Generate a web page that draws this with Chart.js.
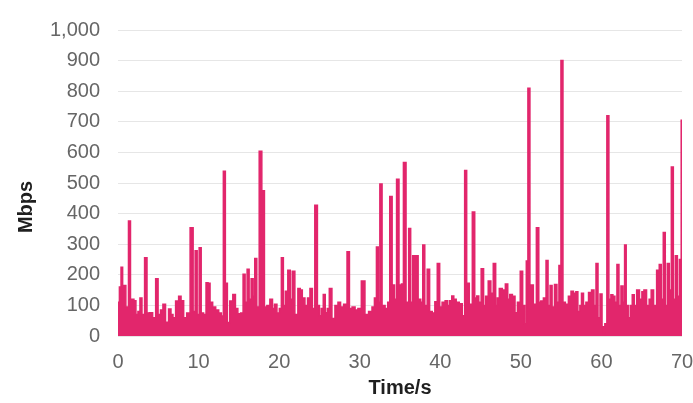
<!DOCTYPE html>
<html>
<head>
<meta charset="utf-8">
<script src="https://cdn.jsdelivr.net/npm/chart.js@4.4.1/dist/chart.umd.min.js"></script>
<style>
    html, body { margin: 0; padding: 0; background: #ffffff; }
    #wrap { width: 693px; height: 403px; position: relative; }
</style>
</head>
<body>
<div id="wrap"><canvas id="throughputChart"></canvas></div>
<script>
// ======================
// DONNEES
// ======================
const timeSec = [
    0, 0.1, 0.25, 0.5, 0.65, 0.85, 1.1, 1.5, 1.6, 1.85,
    2.1, 2.35, 2.6, 2.85, 3.1, 3.5, 3.7, 4.1, 4.5, 4.85,
    5.1, 5.45, 5.7, 6.1, 6.45, 6.7, 6.95, 7.35, 7.7, 7.95,
    8.35, 8.7, 9.2, 9.45, 9.7, 9.95, 10.2, 10.45, 10.8, 11.05,
    11.3, 11.55, 11.95, 12.3, 12.7, 12.95, 13.2, 13.45, 13.7, 14.05,
    14.45, 14.7, 15.05, 15.4, 15.65, 15.9, 16.15, 16.4, 16.65, 16.9,
    17.05, 17.4, 17.65, 18.05, 18.3, 18.65, 19.05, 19.3, 19.55, 19.9,
    20.15, 20.4, 20.65, 20.9, 21.25, 21.5, 21.75, 22.15, 22.5, 22.75,
    23.0, 23.4, 23.65, 24.0, 24.25, 24.6, 24.9, 25.1, 25.35, 25.6,
    25.85, 26.1, 26.35, 26.75, 27.1, 27.5, 27.75, 28.25, 28.6, 28.85,
    29.25, 29.6, 29.95, 30.45, 30.85, 31.35, 31.7, 31.95, 32.2, 32.4,
    32.6, 32.95, 33.35, 33.6, 33.85, 34.2, 34.45, 34.7, 35.05, 35.3,
    35.55, 35.95, 36.2, 36.45, 36.7, 37.05, 37.45, 37.7, 37.95, 38.2,
    38.55, 38.8, 39.2, 39.45, 39.8, 40.05, 40.4, 40.8, 41.05, 41.3,
    41.55, 41.8, 42.15, 42.55, 42.9, 43.15, 43.4, 43.8, 44.15, 44.4,
    44.65, 44.9, 45.25, 45.5, 45.75, 46.15, 46.4, 46.75, 47.0, 47.15,
    47.5, 47.9, 48.25, 48.5, 48.75, 49.15, 49.4, 49.75, 50.1, 50.35,
    50.6, 50.75, 51.0, 51.25, 51.35, 51.75, 52.1, 52.35, 52.6, 53.0,
    53.25, 53.5, 53.75, 54.0, 54.35, 54.6, 54.85, 55.1, 55.35, 55.7,
    56.1, 56.35, 56.7, 56.95, 57.2, 57.45, 57.6, 57.95, 58.2, 58.6,
    58.95, 59.2, 59.45, 59.7, 59.95, 60.2, 60.3, 60.55, 60.8, 61.05,
    61.3, 61.55, 61.8, 62.05, 62.3, 62.55, 62.8, 62.95, 63.2, 63.45,
    63.7, 63.95, 64.2, 64.55, 64.9, 65.15, 65.4, 65.8, 66.05, 66.3,
    66.65, 67.05, 67.3, 67.55, 67.8, 68.05, 68.3, 68.55, 68.8, 69.05,
    69.3, 69.55, 69.8, 70.0
];

const mbps = [
    40, 110, 160, 225, 160, 165, 95, 376, 110, 120,
    115, 70, 80, 124, 70, 256, 75, 76, 60, 187,
    70, 85, 104, 45, 88, 70, 60, 114, 130, 115,
    60, 75, 354, 80, 279, 70, 288, 75, 70, 174,
    172, 110, 95, 85, 75, 65, 538, 172, 44, 114,
    136, 90, 73, 75, 202, 110, 218, 120, 187, 130,
    253, 95, 604, 475, 95, 100, 120, 90, 104, 75,
    90, 256, 100, 146, 215, 120, 212, 70, 155, 150,
    124, 100, 124, 155, 90, 427, 100, 66, 90, 136,
    76, 90, 155, 57, 100, 110, 95, 104, 275, 90,
    95, 85, 90, 180, 70, 80, 95, 124, 291, 110,
    497, 100, 90, 110, 456, 167, 120, 512, 167, 170,
    567, 110, 351, 110, 262, 262, 120, 110, 297, 100,
    218, 80, 75, 112, 237, 95, 110, 115, 100, 115,
    131, 120, 110, 105, 66, 541, 172, 104, 405, 124,
    131, 110, 220, 100, 130, 180, 140, 237, 100, 124,
    155, 150, 170, 120, 136, 130, 76, 110, 212, 100,
    40, 245, 810, 90, 167, 104, 354, 110, 114, 124,
    247, 100, 165, 95, 168, 110, 230, 900, 110, 104,
    130, 146, 140, 145, 80, 100, 140, 100, 110, 142,
    150, 100, 237, 60, 137, 30, 10, 40, 720, 120,
    135, 130, 110, 234, 100, 163, 110, 297, 100, 60,
    100, 135, 100, 150, 120, 145, 150, 100, 120, 150,
    100, 215, 234, 120, 338, 100, 237, 150, 552, 120,
    262, 130, 250, 705
];

const xTicks = [0, 10, 20, 30, 40, 50, 60, 70];
const yTicks = [0, 100, 200, 300, 400, 500, 600, 700, 800, 900, 1000];

// ======================
// STYLE
// ======================
const FONT = "'Liberation Sans', Arial, Helvetica, sans-serif";
const lineColor = '#e2266c';

// titre de l'axe Y dessiné à la main (décalé vers le bas comme dans l'original)
const yTitlePlugin = {
    id: 'yTitle',
    afterDraw(chart) {
        const ctx = chart.ctx;
        ctx.save();
        ctx.translate(26, 207);
        ctx.rotate(-Math.PI / 2);
        ctx.font = 'bold 20px ' + FONT;
        ctx.fillStyle = '#1f1f1f';
        ctx.textAlign = 'center';
        ctx.textBaseline = 'middle';
        ctx.fillText('Mbps', 0, 0);
        ctx.restore();
    }
};

const ctx = document.getElementById('throughputChart').getContext('2d');

new Chart(ctx, {
    type: 'line',
    data: {
        datasets: [{
            label: 'Mbps',
            data: timeSec.map((t, i) => ({ x: t, y: mbps[i] })),
            borderColor: lineColor,
            backgroundColor: lineColor,
            borderWidth: 1.5,
            fill: 'origin',
            stepped: 'middle',
            pointRadius: 0,
            tension: 0
        }]
    },
    options: {
        responsive: true,
        maintainAspectRatio: false,
        animation: false,
        layout: { padding: { top: 20, right: 11, bottom: 0, left: 0 } },
        plugins: {
            legend: { display: false },
            tooltip: { enabled: false }
        },
        scales: {
            x: {
                type: 'linear',
                min: 0,
                max: 70,
                afterBuildTicks: scale => { scale.ticks = xTicks.map(v => ({ value: v })); },
                afterFit: scale => {
                    scale.height = 67;
                    scale.paddingLeft = 0;
                    scale.paddingRight = 0;
                },
                grid: { display: false },
                border: { display: false },
                ticks: {
                    padding: 6,
                    maxRotation: 0,
                    color: '#666666',
                    font: { family: FONT, size: 20 }
                },
                title: {
                    display: true,
                    text: 'Time/s',
                    color: '#1f1f1f',
                    padding: { top: 0, bottom: 3 },
                    font: { family: FONT, size: 20, weight: 'bold' }
                }
            },
            y: {
                min: 0,
                max: 1000,
                afterBuildTicks: scale => { scale.ticks = yTicks.map(v => ({ value: v })); },
                afterFit: scale => { scale.width = 118; },
                grid: { color: '#e6e6e6', lineWidth: 1, drawTicks: false },
                border: { display: false },
                ticks: {
                    padding: 18,
                    color: '#666666',
                    font: { family: FONT, size: 20 }
                }
            }
        }
    },
    plugins: [yTitlePlugin]
});
</script>
</body>
</html>
